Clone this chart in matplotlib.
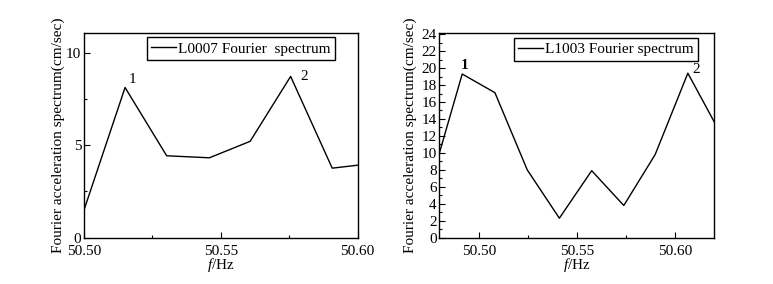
import matplotlib
matplotlib.use("Agg")
import matplotlib.pyplot as plt
from matplotlib.ticker import MultipleLocator

plt.rcParams['font.family'] = ['Liberation Serif', 'DejaVu Serif']
plt.rcParams['mathtext.fontset'] = 'custom'
plt.rcParams['mathtext.it'] = 'Liberation Serif:italic'
plt.rcParams['mathtext.rm'] = 'Liberation Serif'

# L0007 spectrum (left panel)
freq_l = [50.500, 50.515, 50.5302, 50.5458, 50.5607, 50.5755, 50.5907, 50.600]
amp_l = [1.5, 8.12, 4.43, 4.32, 5.21, 8.72, 3.76, 3.92]
legend_l = 'L0007 Fourier  spectrum'

# L1003 spectrum (right panel)
freq_r = [50.4796, 50.4913, 50.5080, 50.5245, 50.5409, 50.5574, 50.5738, 50.5898, 50.6065, 50.6201]
amp_r = [9.95, 19.3, 17.1, 8.0, 2.3, 7.9, 3.8, 9.8, 19.4, 13.6]
legend_r = 'L1003 Fourier spectrum'

ylabel = 'Fourier acceleration spectrum(cm/sec)'
xlabel = r'$\mathit{f}$/Hz'

fig = plt.figure(figsize=(7.73, 2.84), dpi=100)
ax1 = fig.add_axes([0.1087, 0.163, 0.354, 0.7197])
ax2 = fig.add_axes([0.5683, 0.163, 0.355, 0.7197])


def style_axes(ax):
    ax.tick_params(which='both', direction='in', labelsize=11, width=0.8)
    ax.tick_params(axis='x', pad=5)
    ax.tick_params(axis='y', pad=2)
    ax.tick_params(which='major', length=4)
    ax.tick_params(which='minor', length=2)
    for s in ax.spines.values():
        s.set_linewidth(1.0)
    ax.xaxis.set_major_locator(MultipleLocator(0.05))
    ax.xaxis.set_minor_locator(MultipleLocator(0.025))
    ax.xaxis.set_major_formatter(plt.FormatStrFormatter('%.2f'))
    ax.set_xlabel(xlabel, fontsize=11, labelpad=-1)
    ax.set_ylabel(ylabel, fontsize=11)


def add_legend(ax, anchor):
    leg = ax.legend(loc='upper right', bbox_to_anchor=anchor, fontsize=11,
                    fancybox=False, edgecolor='black', framealpha=1,
                    handlelength=1.6, borderpad=0.3, handletextpad=0.15,
                    borderaxespad=0)
    leg.get_frame().set_linewidth(1.0)


# left panel
ax1.plot(freq_l, amp_l, color='black', lw=1.0, label=legend_l)
ax1.set_xlim(50.50, 50.60)
ax1.set_ylim(0, 11.05)
ax1.yaxis.set_major_locator(MultipleLocator(5))
ax1.yaxis.set_minor_locator(MultipleLocator(2.5))
style_axes(ax1)
ax1.yaxis.set_label_coords(-0.068, 0.5)
add_legend(ax1, (0.917, 0.98))
ax1.annotate('1', (freq_l[1], amp_l[1]), xytext=(5, 5.5), textcoords='offset points',
             ha='center', va='center', fontsize=11)
ax1.annotate('2', (freq_l[5], amp_l[5]), xytext=(9.5, 0), textcoords='offset points',
             ha='center', va='center', fontsize=11)

# right panel
ax2.plot(freq_r, amp_r, color='black', lw=1.0, label=legend_r)
ax2.set_xlim(50.4796, 50.6197)
ax2.set_ylim(0, 24.1)
ax2.yaxis.set_major_locator(MultipleLocator(2))
ax2.yaxis.set_minor_locator(MultipleLocator(1))
style_axes(ax2)
ax2.yaxis.set_label_coords(-0.083, 0.5)
add_legend(ax2, (0.944, 0.978))
ax2.annotate('1', (freq_r[1], amp_r[1]), xytext=(2, 6), textcoords='offset points',
             ha='center', va='center', fontsize=11, fontweight='bold')
ax2.annotate('2', (freq_r[8], amp_r[8]), xytext=(6, 2.5), textcoords='offset points',
             ha='center', va='center', fontsize=11)

fig.savefig('out.png', dpi=100)
